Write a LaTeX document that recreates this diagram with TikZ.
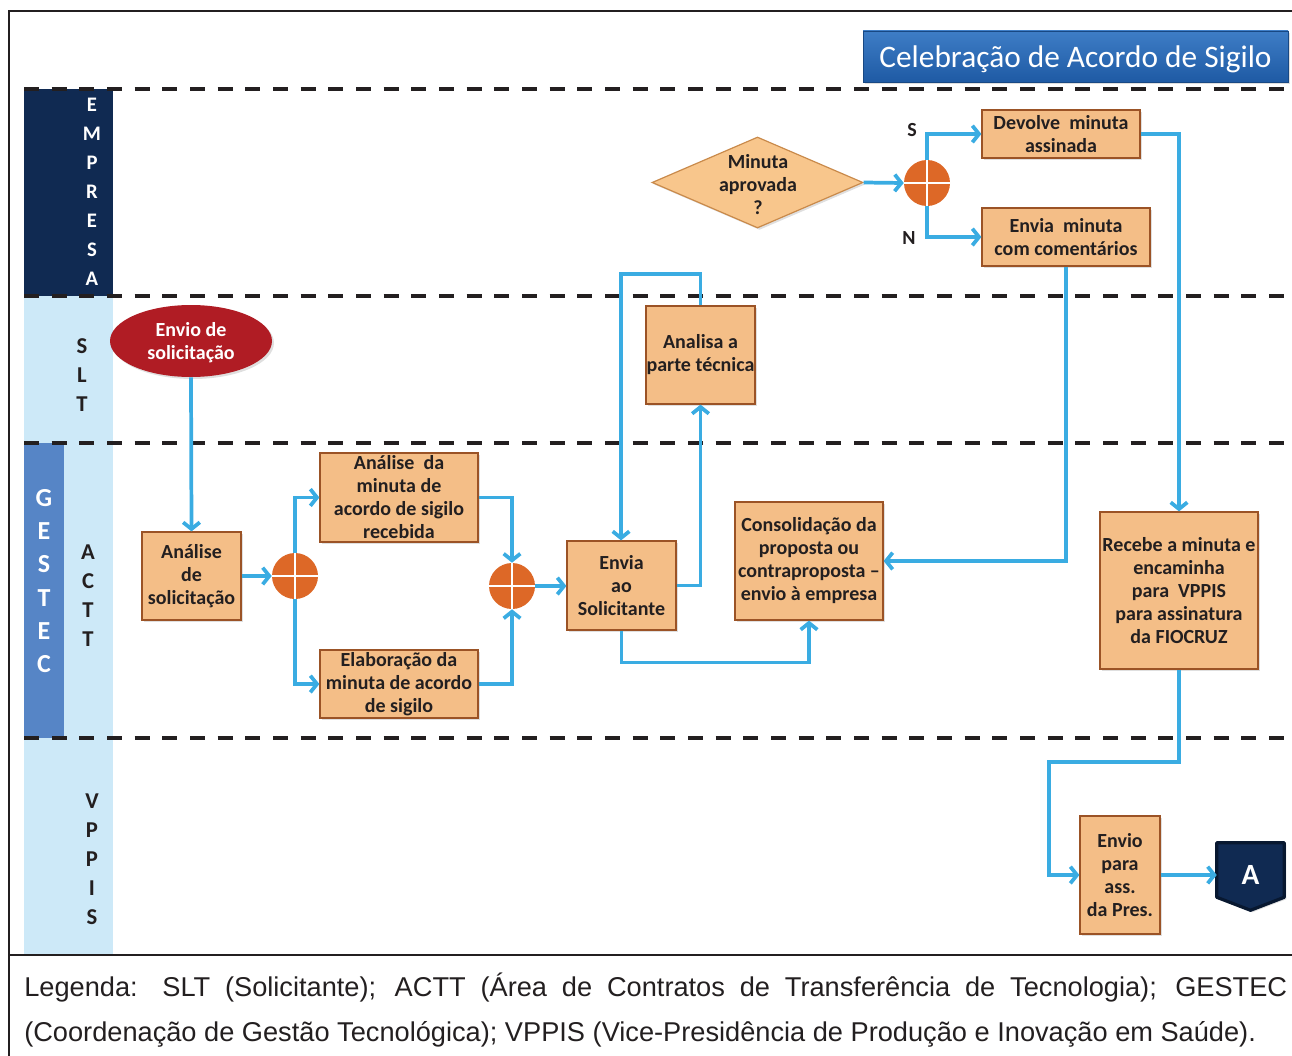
\documentclass[tikz,border=0pt]{standalone}
\usepackage{fontspec}
\setmainfont{Carlito}
\newfontfamily\legfont{Liberation Sans}
\usetikzlibrary{arrows.meta,shapes.geometric,shadows,calc}
\definecolor{navy}{RGB}{16,42,82}
\definecolor{lightlane}{RGB}{205,233,248}
\definecolor{midlane}{RGB}{86,133,198}
\definecolor{peach}{RGB}{244,190,135}
\definecolor{peachline}{RGB}{155,83,38}
\definecolor{diafill}{RGB}{248,198,140}
\definecolor{dialine}{RGB}{201,138,75}
\definecolor{redev}{RGB}{176,28,36}
\definecolor{gworange}{RGB}{221,104,39}
\definecolor{flowblue}{RGB}{58,172,226}
\definecolor{titletop}{RGB}{62,125,198}
\definecolor{titlebot}{RGB}{30,90,164}
\definecolor{offline}{RGB}{8,24,48}
\definecolor{inkdark}{RGB}{35,31,32}
\begin{document}
\begin{tikzpicture}[x=0.75pt,y=-0.75pt,
  every node/.style={font=\fontsize{15pt}{17.25pt}\selectfont\bfseries, text=inkdark},
  shade/.style={drop shadow={shadow xshift=1.5pt,shadow yshift=-1.5pt,opacity=0.25}},
  task/.style={rectangle, draw=peachline, line width=0.9pt, fill=peach, align=center, inner sep=0pt, shade},
  gw/.style={circle, fill=gworange, minimum size=34.5pt, inner sep=0pt,
    path picture={\draw[white,line width=1.8pt] (path picture bounding box.north) -- (path picture bounding box.south)
      (path picture bounding box.west) -- (path picture bounding box.east);}},
  lanelbl/.style={align=center, inner sep=0pt},
  lanesep/.style={draw=inkdark, line width=2.6pt, dash pattern=on 11.25pt off 9.5pt},
  flow/.style={draw=flowblue, line width=2.8pt, -{Straight Barb[length=5pt,width=12.5pt]}},
  frame/.style={draw=inkdark, line width=1.6pt}
]
\useasboundingbox (0,0) rectangle (1292,1056);

% lane label columns
\fill[navy] (24,89) rectangle (113,296);
\fill[lightlane] (24,296) rectangle (113,443);
\fill[midlane] (24,443) rectangle (64,738);
\fill[lightlane] (64,443) rectangle (113,738);
\fill[lightlane] (24,738) rectangle (113,955);

% frame
\draw[frame] (1292,11) -- (9,11) -- (9,1056);
\draw[frame] (9,955) -- (1292,955);

% lane separators
\draw[lanesep] (24,89) -- (1292,89);
\draw[lanesep] (24,296) -- (1292,296);
\draw[lanesep] (24,443) -- (1292,443);
\draw[lanesep] (24,738) -- (1292,738);

% lane labels
\node[lanelbl, text=white, font=\fontsize{15.5pt}{21.75pt}\selectfont\bfseries] (lEmp) at (92,192) {E\\M\\P\\R\\E\\S\\A};
\node[lanelbl, font=\fontsize{17pt}{21.75pt}\selectfont\bfseries] (lSlt) at (82,375) {S\\L\\T};
\node[lanelbl, text=white, font=\fontsize{19.5pt}{25pt}\selectfont\bfseries] (lGes) at (44,581) {G\\E\\S\\T\\E\\C};
\node[lanelbl, font=\fontsize{17pt}{21.75pt}\selectfont\bfseries] (lAct) at (88,596) {A\\C\\T\\T};
\node[lanelbl, font=\fontsize{17pt}{21.75pt}\selectfont\bfseries] (lVpp) at (92,859) {V\\P\\P\\I\\S};

% title
\node[rectangle, minimum width=318.75pt, minimum height=38.25pt, top color=titletop, bottom color=titlebot,
  draw=titlebot!80!black, line width=0.6pt, inner sep=0pt, shade] (title) at (1075.5,56.5) {};
\node[text=white, inner sep=0pt, font=\fontsize{23.5pt}{28pt}\selectfont] (titleTxt) at (1075.5,59) {Celebração de Acordo de Sigilo};

% EMPRESA lane
\node[diamond, draw=dialine, line width=0.9pt, fill=diafill, minimum width=158.25pt, minimum height=68.25pt, inner sep=0pt, shade] (dia) at (757.5,182.5) {};
\node[align=center, inner sep=0pt] (diaTxt) at (758,185) {Minuta\\aprovada\\?};
\node[gw] (g3) at (927,183) {};
\node[task, minimum width=118.5pt, minimum height=36pt] (dev) at (1061,134) {Devolve~ minuta\\assinada};
\node[task, minimum width=126pt, minimum height=43.5pt] (envMin) at (1066,237) {Envia~ minuta\\com comentários};
\node[inner sep=0pt] (lblS) at (912,130) {S};
\node[inner sep=0pt] (lblN) at (909,238) {N};

% SLT lane
\node[ellipse, fill=redev, minimum width=121.5pt, minimum height=54pt, inner sep=0pt, shade] (envio) at (191,341) {};
\node[align=center, text=white, inner sep=0pt] (envioTxt) at (191,343) {Envio de\\solicitação};
\node[task, minimum width=81.75pt, minimum height=73.5pt] (tec) at (700.5,355) {Analisa a\\parte técnica};

% GESTEC / ACTT lane
\node[task, minimum width=74.25pt, minimum height=66pt] (anSol) at (191.5,576) {Análise\\de\\solicitação};
\node[gw] (g1) at (295,576) {};
\node[task, minimum width=118.5pt, minimum height=66.75pt] (anMin) at (399,497.5) {Análise~ da\\minuta de\\acordo de sigilo\\recebida};
\node[task, minimum width=118.5pt, minimum height=51pt] (elab) at (399,684) {Elaboração da\\minuta de acordo\\de sigilo};
\node[gw] (g2) at (512,586) {};
\node[task, minimum width=81.75pt, minimum height=66.75pt] (envSol) at (621.5,585.5) {Envia\\ao\\Solicitante};
\node[task, minimum width=111pt, minimum height=88.5pt] (cons) at (809,561) {Consolidação da\\proposta ou\\contraproposta –\\envio à empresa};
\node[task, minimum width=118.5pt, minimum height=117.75pt] (rec) at (1179,590.5) {Recebe a minuta e\\encaminha\\para~ VPPIS\\para assinatura\\da FIOCRUZ};

% VPPIS lane
\node[task, minimum width=60pt, minimum height=88.5pt] (pres) at (1120,875) {Envio\\para\\ass.\\da Pres.};
\node[rectangle, minimum width=50.25pt, minimum height=40.5pt, inner sep=0pt] (offA) at (1250.5,870) {};
\draw[draw=offline, line width=2.4pt, fill=navy, line join=round, shade]
  (offA.north west) -- (offA.north east) -- (offA.south east) -- ($(offA.south)+(0,13)$) -- (offA.south west) -- cycle;
\node[text=white, font=\fontsize{22pt}{26pt}\selectfont\bfseries, inner sep=0pt] (offAtxt) at (1250.5,875) {A};

% connectors
\coordinate (loopTop) at (621,274);
\coordinate (bendV) at (1049,762);
\draw[flow] (envio.south) -- (anSol.north);
\draw[flow] (anSol.east) -- (g1.west);
\draw[flow] (g1.north) |- (anMin.west);
\draw[flow] (g1.south) |- (elab.west);
\draw[flow] (anMin.east) -| (g2.north);
\draw[flow] (elab.east) -| (g2.south);
\draw[flow] (g2.east) -- (g2.east -| envSol.west);
\draw[flow] (envSol.east) -| (tec.south);
\draw[flow] (tec.north) |- (loopTop) -- (envSol.north -| loopTop);
\draw[flow] (envSol.south) -- ++(0,32) -| (cons.south);
\draw[flow] (dia.east) -- (g3.west);
\draw[flow] (g3.north) |- (dev.west);
\draw[flow] (g3.south) |- (envMin.west);
\draw[flow] (envMin.south) |- (cons.east);
\draw[flow] (dev.east) -| (rec.north);
\draw[flow] (rec.south) |- (bendV) |- (pres.west);
\draw[flow] (pres.east) -- (pres.east -| offA.west);

% legend
\node[anchor=base west, inner sep=0pt, text=inkdark, font=\legfont\fontsize{20.4pt}{24pt}\selectfont] (leg1) at (24,996)
  {\makebox[947.25pt][s]{Legenda: SLT (Solicitante); ACTT (Área de Contratos de Transferência de Tecnologia); GESTEC}};
\node[anchor=base west, inner sep=0pt, text=inkdark, font=\legfont\fontsize{20.4pt}{24pt}\selectfont] (leg2) at (24,1041)
  {(Coordenação de Gestão Tecnológica); VPPIS (Vice-Presidência de Produção e Inovação em Saúde).};
\end{tikzpicture}
\end{document}
